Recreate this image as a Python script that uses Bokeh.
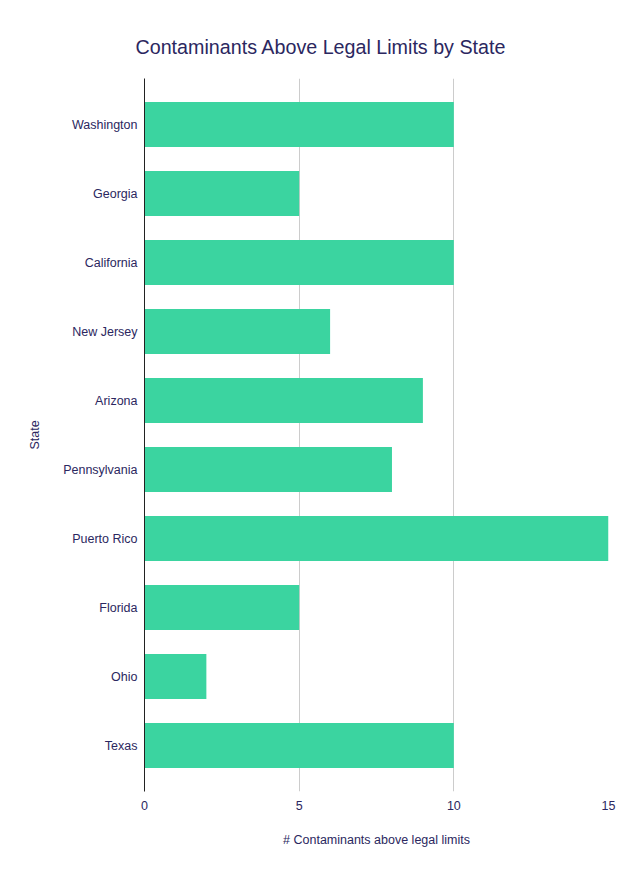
from bokeh.plotting import figure
from bokeh.models import FactorRange, Range1d, FixedTicker, Title, ColumnDataSource
from bokeh.embed import file_html
from bokeh.resources import INLINE

# Number of contaminants above legal limits, listed top to bottom
states = ["Washington", "Georgia", "California", "New Jersey", "Arizona",
          "Pennsylvania", "Puerto Rico", "Florida", "Ohio", "Texas"]
counts = [10, 5, 10, 6, 9, 8, 15, 5, 2, 10]
x_ticks = [0, 5, 10, 15]

TEXT = "#2b2760"
BAR = "#3bd4a0"
FONT = "Liberation Sans"

source = ColumnDataSource(data=dict(state=states, count=counts))

# categorical axis lists factors bottom-up, so reverse to keep Washington on top
y_range = FactorRange(factors=list(reversed(states)),
                      range_padding=1 / 30, range_padding_units="percent")

p = figure(width=641, height=876, y_range=y_range, x_range=Range1d(0, 15),
           output_backend="svg", toolbar_location=None,
           min_border_left=144, min_border_right=33,
           min_border_top=78, min_border_bottom=85)

p.hbar(y="state", right="count", left=0, height=0.652, source=source,
       fill_color=BAR, line_color=None)

title = Title(text="Contaminants Above Legal Limits by State", align="left",
              offset=-9, text_font=FONT, text_font_size="19.7px",
              text_font_style="normal", text_color=TEXT, standoff=41)
p.add_layout(title, "above")

p.outline_line_color = None
p.background_fill_color = "white"
p.border_fill_color = "white"

# x axis: no line or ticks, light vertical gridlines
xa = p.xaxis[0]
xa.ticker = FixedTicker(ticks=x_ticks)
xa.axis_line_color = None
xa.major_tick_line_color = None
xa.minor_tick_line_color = None
xa.major_tick_out = 0
xa.major_label_standoff = 9
xa.major_label_text_font = FONT
xa.major_label_text_font_size = "12.5px"
xa.major_label_text_color = TEXT
xa.axis_label = "# Contaminants above legal limits"
xa.axis_label_text_font = FONT
xa.axis_label_text_font_size = "12.5px"
xa.axis_label_text_font_style = "normal"
xa.axis_label_text_color = TEXT
xa.axis_label_standoff = 20

# y axis: dark baseline at zero, state names
ya = p.yaxis[0]
ya.axis_line_color = "#222222"
ya.axis_line_width = 1
ya.major_tick_line_color = None
ya.minor_tick_line_color = None
ya.major_tick_out = 0
ya.major_label_standoff = 7
ya.major_label_text_font = FONT
ya.major_label_text_font_size = "12.5px"
ya.major_label_text_color = TEXT
ya.axis_label = "State"
ya.axis_label_text_font = FONT
ya.axis_label_text_font_size = "12.5px"
ya.axis_label_text_font_style = "normal"
ya.axis_label_text_color = TEXT
ya.axis_label_standoff = 18

p.xgrid.grid_line_color = "#cccccc"
p.xgrid.grid_line_width = 1
p.ygrid.grid_line_color = None

open("out.html", "w").write(file_html(p, INLINE))
